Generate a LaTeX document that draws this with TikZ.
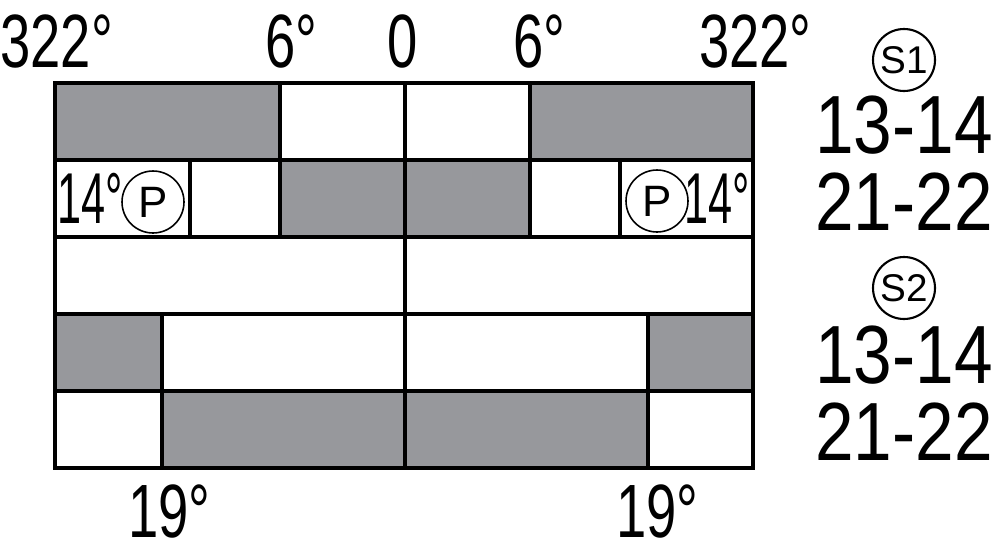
\documentclass[tikz,border=0pt]{standalone}
\usepackage{fontspec}
\setmainfont{Liberation Sans}
\newfontfamily\narrowfont{Liberation Sans}[FakeStretch=0.72]
\newfontfamily\slimfont{Liberation Sans}[FakeStretch=0.6]
\newfontfamily\contactfont{Liberation Sans}[FakeStretch=0.84]
\definecolor{camgray}{HTML}{97989C}

\tikzset{
  cell/.style={draw=black,line width=2.2pt},
  on/.style={cell,fill=camgray},
  off/.style={cell,fill=white},
  deg/.style={inner sep=0pt,text depth=0pt,font=\narrowfont\fontsize{43}{43}\selectfont},
  pdeg/.style={deg,font=\slimfont\fontsize{41}{41}\selectfont},
  contact/.style={inner sep=0pt,text depth=0pt,anchor=base,font=\contactfont\fontsize{47}{47}\selectfont},
  tag/.style={circle,draw,line width=0.9pt,inner sep=0pt,minimum size=1.24cm,font=\fontsize{25}{25}\selectfont},
  stag/.style={tag,line width=1.2pt,font=\fontsize{22}{22}\selectfont}
}

\begin{document}
\begin{tikzpicture}[x=0.02cm,y=-0.02cm]
    \useasboundingbox (0,0) rectangle (1000,548);
    %S1 13-14
    \draw[on]  (55,83) rectangle (280,160);
    \draw[off] (280,83) rectangle (405,160);
    \draw[off] (405,83) rectangle (530,160);
    \draw[on]  (530,83) rectangle (753,160);
    %S1 21-22
    \draw[off] (55,160) rectangle (190,237);
    \draw[off] (190,160) rectangle (280,237);
    \draw[on]  (280,160) rectangle (405,237);
    \draw[on]  (405,160) rectangle (530,237);
    \draw[off] (530,160) rectangle (620,237);
    \draw[off] (620,160) rectangle (753,237);
    %spacer
    \draw[off] (55,237) rectangle (405,314);
    \draw[off] (405,237) rectangle (753,314);
    %S2 13-14
    \draw[on]  (55,314) rectangle (162,391);
    \draw[off] (162,314) rectangle (405,391);
    \draw[off] (405,314) rectangle (648,391);
    \draw[on]  (648,314) rectangle (753,391);
    %S2 21-22
    \draw[off] (55,391) rectangle (162,468);
    \draw[on]  (162,391) rectangle (405,468);
    \draw[on]  (405,391) rectangle (648,468);
    \draw[off] (648,391) rectangle (753,468);

    %angles
    \node (topL) at (0,67) [deg,anchor=base west] {322°};
    \node (sixL) at (265,67) [deg,anchor=base west] {6°};
    \node (zero) at (403,67) [deg,anchor=base] {0};
    \node (sixR) at (513,67) [deg,anchor=base west] {6°};
    \node (topR) at (812,67) [deg,anchor=base east] {322°};
    \node (preL) at (57,223) [pdeg,anchor=base west] {14°};
    \node (preR) at (750,223) [pdeg,anchor=base east] {14°};
    \node (botL) at (128,537) [deg,anchor=base west] {19°};
    \node (botR) at (616,537) [deg,anchor=base west] {19°};
    \node (pL) at (153,202) [tag] {P};
    \node (pR) at (657,201) [tag] {P};

    %contacts
    \node (s1) at (904,60) [stag] {S1};
    \node (s1a) at (904,153) [contact] {13-14};
    \node (s1b) at (904,230) [contact] {21-22};
    \node (s2) at (904,288) [stag] {S2};
    \node (s2a) at (904,383) [contact] {13-14};
    \node (s2b) at (904,460) [contact] {21-22};
\end{tikzpicture}
\end{document}
